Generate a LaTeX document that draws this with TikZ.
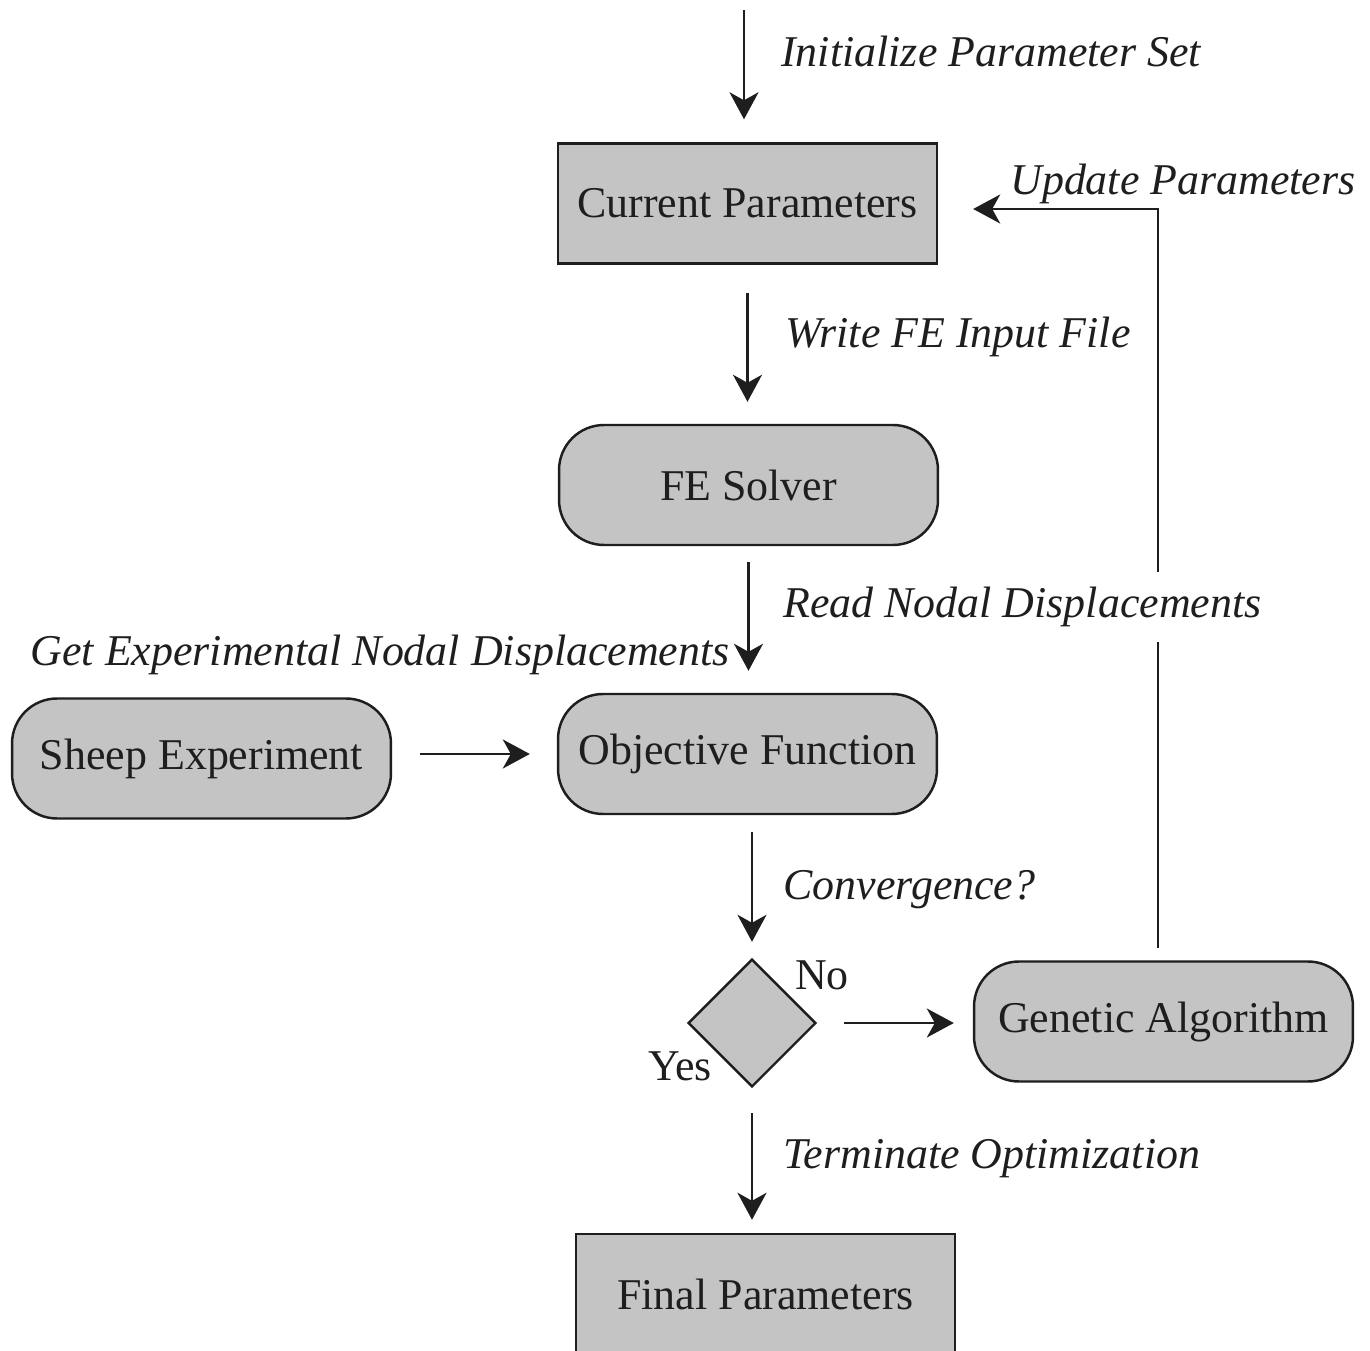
\documentclass[tikz,border=0pt]{standalone}
\usepackage{fontspec}
\setmainfont{Liberation Serif}
\usetikzlibrary{arrows.meta,shapes.geometric}
\definecolor{boxgray}{RGB}{196,196,196}
\definecolor{ink}{RGB}{30,30,30}
\newcommand{\flowfont}{\fontsize{25}{30}\selectfont}
\tikzset{
    box/.style={draw=ink, line width=1.4pt, fill=boxgray, minimum width=7.58cm, minimum height=2.4cm, inner sep=0pt},
    roundbox/.style={box, rounded corners=0.9cm},
    decision/.style={diamond, draw=ink, line width=1.4pt, fill=boxgray, minimum width=2.56cm, minimum height=2.56cm, inner sep=0pt},
    flow/.style={draw=ink, line width=1.4pt, -{Stealth[length=5.4mm,width=5.8mm,inset=1.6mm]}},
    lbl/.style={font=\flowfont\itshape, inner sep=0pt, text=ink}
}

\begin{document}
\begin{tikzpicture}[x=0.02cm, y=-0.02cm, font=\flowfont, text=ink]
            \clip (0,0) rectangle (1370,1351);
            \fill[white] (0,0) rectangle (1370,1351);

            % boxes
            \node[box] (cur) at (747.5,203.5) {Current Parameters};
            \node[roundbox] (fe) at (748.5,485) {FE Solver};
            \node[roundbox] (obj) at (747.5,754) {Objective Function};
            \node[roundbox] (sheep) at (201.5,758.5) {Sheep Experiment};
            \node[decision] (conv) at (752,1023) {};
            \node[roundbox] (ga) at (1163.5,1021.5) {Genetic Algorithm};
            \node[box] (final) at (765.5,1294) {Final Parameters};

            \coordinate (start) at (744,10);
            \coordinate (up) at (1158,209);

            % arrows
            \draw[flow, shorten >=0.46cm] (start) -- (cur.north -| start);
            \draw[flow, shorten <=0.56cm, shorten >=0.44cm] (cur.south) -- (cur.south |- fe.north);
            \draw[flow, shorten <=0.32cm, shorten >=0.44cm] (fe.south) -- (fe.south |- obj.north);
            \draw[flow, shorten <=0.34cm, shorten >=0.32cm] (obj.south -| conv.north) -- (conv.north);
            \draw[flow, shorten <=0.50cm, shorten >=0.26cm] (conv.south) -- (conv.south |- final.north);
            \draw[flow, shorten <=0.56cm, shorten >=0.54cm] (sheep.east |- obj.west) -- (obj.west);
            \draw[flow, shorten <=0.54cm, shorten >=0.38cm] (conv.east) -- (conv.east -| ga.west);
            \draw[flow, shorten <=0.24cm, shorten >=0.70cm] (ga.north -| up) -- (up) -- (up -| cur.east);

            % labels
            \node[lbl, anchor=west] (linit) at (781,51) {Initialize Parameter Set};
            \node[lbl, anchor=west] (lwrite) at (785,337) {Write FE Input File};
            \node[lbl, anchor=west, fill=white, inner ysep=0.3cm] (lread) at (783,607) {Read Nodal Displacements};
            \node[lbl, anchor=east] (lexp) at (730,655) {Get Experimental Nodal Displacements};
            \node[lbl, anchor=west] (lconv) at (783,890) {Convergence?};
            \node[lbl, anchor=west] (lterm) at (783,1159) {Terminate Optimization};
            \node[lbl, anchor=west] (lupd) at (1010,184) {Update Parameters};
            \node[inner sep=0pt] (lno) at (822,975) {No};
            \node[inner sep=0pt] (lyes) at (680,1066) {Yes};

        \end{tikzpicture}
\end{document}
